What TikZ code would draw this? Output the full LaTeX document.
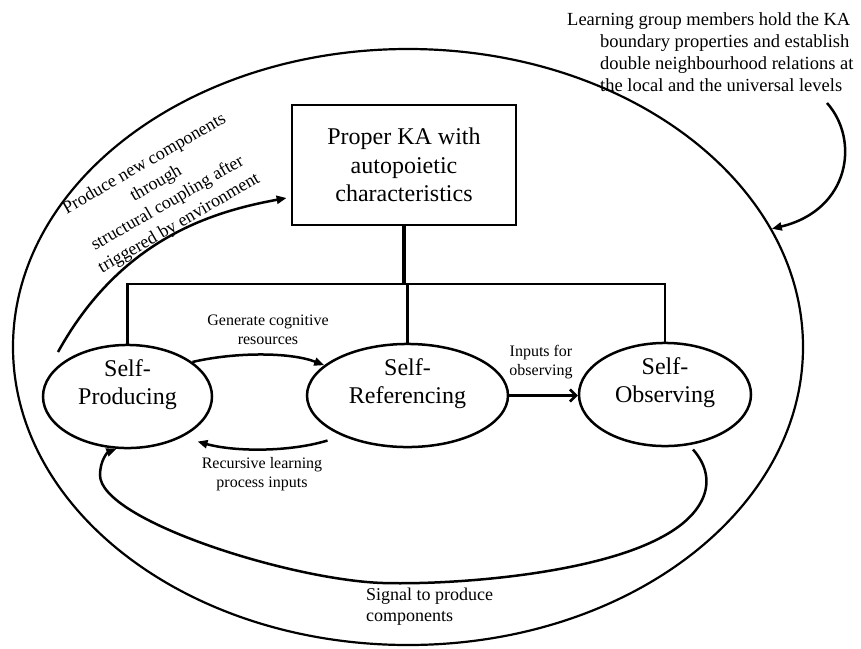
\documentclass[tikz,border=0pt]{standalone}
\usepackage{fontspec}
\setmainfont{Liberation Serif}
\usetikzlibrary{shapes.geometric,arrows.meta}
\begin{document}
\begin{tikzpicture}[x=1pt,y=-1pt,
  wire/.style={line width=2.5pt},
  flow/.style={wire,-{Triangle[length=10pt,width=8pt]}},
  feed/.style={wire,-{Straight Barb[length=6pt,width=12pt]}},
  bubble/.style={ellipse,draw,line width=2.5pt,inner sep=0pt,align=center,
    text depth=28pt,font=\fontsize{24}{28}\selectfont},
  tag/.style={align=center,inner sep=0pt,font=\fontsize{16}{18.5}\selectfont},
  note/.style={inner sep=0pt,font=\fontsize{18.5}{22}\selectfont}
]
\useasboundingbox (0,0) rectangle (861,648);

% knowledge-architecture boundary
\node[ellipse,draw,line width=2.2pt,minimum width=790pt,minimum height=596pt,inner sep=0pt] (ka) at (408,347) {};

% central unit
\node[draw,line width=2.8pt,minimum width=224pt,minimum height=120pt,align=center,
  font=\fontsize{24}{28.5}\selectfont] (ka box) at (404,165) {Proper KA with\\autopoietic\\characteristics};

% the three self-processes
\node[bubble,minimum width=169pt,minimum height=103pt] (sp) at (127.5,396.5) {Self-\\Producing};
\node[bubble,minimum width=201pt,minimum height=103pt] (sr) at (407.5,395.5) {Self-\\Referencing};
\node[bubble,minimum width=172pt,minimum height=101pt] (so) at (665,394.5) {Self-\\Observing};

% tree joining the unit to the processes
\coordinate (bus) at (404,284);
\draw[line width=3.5pt] (ka box.south) -- (bus);
\draw[wire] (sp.north) -- (sp.north |- bus) -- (so.north |- bus) -- (so.north);
\draw[wire] (sr.north) -- (sr.north |- bus);

% links between processes
\draw[flow] (sp.28) .. controls (235,352) and (290,352) .. (sr.160);
\draw[flow] ([shift={(-80,45)}]sr.center) .. controls (290,452) and (235,452) .. ([shift={(70,45)}]sp.center);
\draw[feed] (sr.east) -- (sr.east -| so.west);
\draw[flow] ([shift={(28,55)}]so.center) .. controls (720,480) and (705,515) .. (660,538)
  .. controls (590,575) and (450,585) .. (383,583)
  .. controls (290,580) and (100,520) .. (100,475)
  .. controls (100,460) and (108,452) .. (sp.258);

% environment coupling
\coordinate (envtail) at (58,352);
\draw[flow] (envtail) .. controls (120,240) and (210,212) .. ([shift={(-4,33)}]ka box.west);

% boundary note
\coordinate (trtail) at (827,103);
\draw[flow] (trtail) .. controls (860,140) and (850,210) .. (ka.18);

% labels
\node[tag] (gen) at (268,330) {Generate cognitive\\resources};
\node[tag] (rec) at (262,474) {Recursive learning\\process inputs};
\node[tag] (inp) at (541,362) {Inputs for\\observing};
\node[note,anchor=north west,align=left] (members) at (600,12)
  {\hspace*{-33pt}Learning group members hold the KA\\boundary properties and establish\\double neighbourhood relations at\\the local and the universal levels};
\node[note,rotate=30,align=center,font=\fontsize{18}{23}\selectfont] (coupling) at (162,194)
  {Produce new components\\through\\structural coupling after\\triggered by environment};
\node[note,anchor=north west,align=left,font=\fontsize{18}{21}\selectfont] (signal) at (366,588)
  {Signal to produce\\components};
\end{tikzpicture}
\end{document}
